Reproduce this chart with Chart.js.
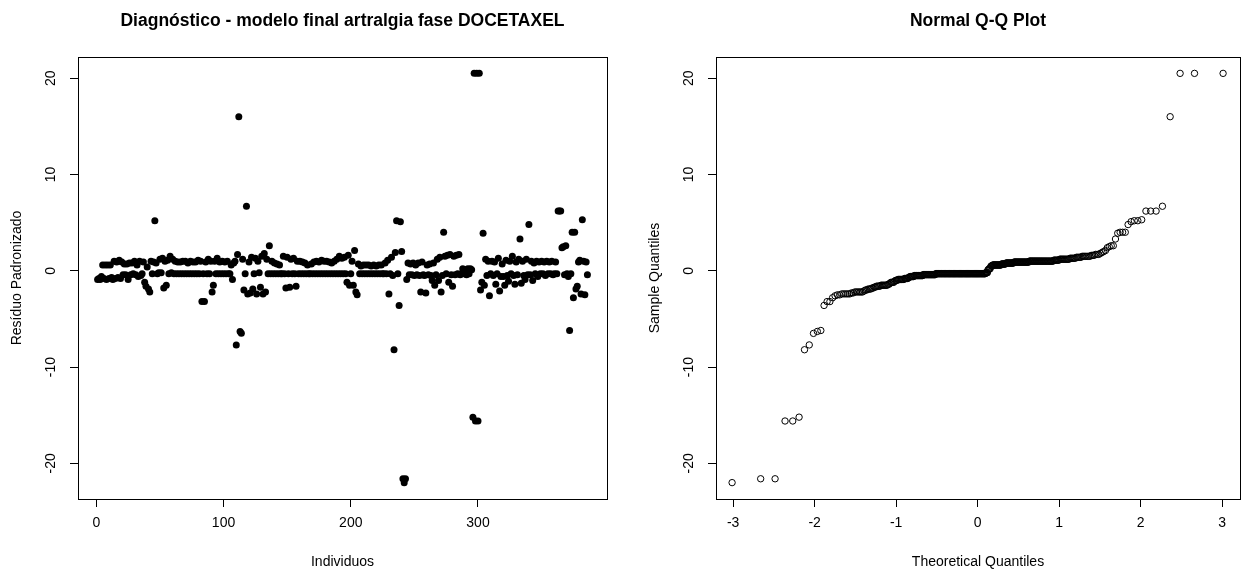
<!DOCTYPE html>
<html><head><meta charset="utf-8">
<script src="https://cdn.jsdelivr.net/npm/chart.js@4.4.1/dist/chart.umd.min.js"></script>
<style>
html,body{margin:0;padding:0;background:#fff;overflow:hidden;width:1254px;height:573px;}
#wrap{position:relative;width:1254px;height:573px;overflow:hidden;background:#fff;}
canvas{position:absolute;top:0;}
#c1{left:0px}
#c2{left:638px}
</style></head><body>
<div id="wrap">
<canvas id="c1" width="627" height="573"></canvas>
<canvas id="c2" width="616" height="573"></canvas>
</div>
<script>
// ---- data ----
const residuals = [
 -0.9,-0.8,-0.9,-0.6,0.6,-0.8,0.6,-0.9,0.6,-0.8,
 0.6,-0.7,-0.9,1.0,-0.8,0.9,-0.7,1.1,-0.8,0.9,
 -0.4,0.7,-0.4,0.7,-0.9,0.8,-0.4,0.8,-0.3,1.0,
 -0.4,0.6,-0.6,1.0,-0.5,-0.3,0.9,-1.2,-1.6,0.4,
 -1.9,-2.2,1.0,-0.3,0.9,5.2,0.8,-0.3,-0.2,1.2,
 -0.2,1.3,-1.8,1.0,-1.5,1.1,-0.3,1.5,-0.2,1.2,
 -0.3,1.0,-0.3,0.9,-0.3,0.9,-0.3,1.0,-0.3,1.0,
 -0.3,0.8,-0.3,1.0,-0.3,0.9,-0.3,0.9,-0.3,1.1,
 -0.3,1.0,-3.2,-0.3,-3.2,0.9,-0.3,1.2,-0.3,1.0,
 -2.2,-1.5,1.0,-0.3,1.3,-0.3,0.9,-0.3,1.0,-0.3,
 0.9,-0.3,1.0,-0.3,-0.3,0.6,-0.9,0.8,1.0,-7.7,
 1.7,16.0,-6.3,-6.5,1.2,-2.0,-0.3,6.7,-2.4,0.9,
 -2.3,1.4,-1.9,-0.3,1.3,-2.4,1.0,-0.2,-1.7,1.5,
 -2.4,1.8,-2.2,1.2,-0.3,2.6,-0.3,1.0,-0.3,0.8,
 -0.3,0.7,-0.3,0.6,-0.3,-0.3,1.5,-0.3,-1.8,1.4,
 -0.3,-1.7,1.2,-0.3,1.3,-0.3,-1.6,1.0,-0.3,1.0,
 -0.3,0.9,-0.3,0.8,-0.3,0.6,-0.3,-0.3,0.7,-0.3,
 0.9,-0.3,1.0,-0.3,0.9,-0.3,1.1,-0.3,1.0,-0.3,
 1.0,-0.3,0.9,-0.3,0.8,-0.3,1.0,-0.3,1.2,-0.3,
 1.5,-0.3,1.3,-0.3,1.4,-0.3,-1.2,1.6,-1.5,-0.3,
 1.0,-1.5,2.1,-2.2,-2.5,0.7,-0.3,0.5,-0.3,0.6,
 -0.3,0.6,-0.3,0.6,-0.3,0.5,-0.3,0.6,-0.3,0.5,
 -0.3,0.6,-0.3,0.6,-0.3,-0.3,0.8,-0.3,1.1,-2.4,
 -0.3,1.4,-0.5,-8.2,1.9,5.2,-0.3,-3.6,5.1,2.0,
 -21.6,-22.0,-21.6,-0.9,0.8,-0.4,0.7,-0.4,0.8,-0.5,
 0.6,-0.4,0.8,-0.5,-2.2,0.9,-0.4,-0.5,-2.3,0.6,
 -0.4,0.7,-0.5,-1.0,0.8,-1.5,-0.4,1.2,-1.0,1.4,
 -2.2,-0.5,4.0,1.5,-0.3,1.6,-1.2,1.7,-0.4,-1.6,
 1.5,-0.4,1.6,-0.3,1.7,-0.4,-0.3,0.2,-0.3,0.1,
 -0.4,0.2,-0.3,0.2,0.1,-15.2,20.5,-15.6,20.5,-15.6,
 20.5,-2.0,-1.2,3.9,-1.5,1.2,-0.5,1.0,-2.6,-0.3,
 1.0,-0.5,0.9,-1.4,-0.3,1.3,-2.1,-0.6,0.7,-0.6,
 -1.5,1.1,-0.5,-1.1,1.0,-0.3,1.5,-0.5,-1.4,0.9,
 -0.4,1.2,3.3,-1.3,1.0,-0.5,-0.9,1.2,-0.4,4.8,
 -0.4,1.0,-1.0,0.8,-0.3,1.0,-0.6,0.9,-0.3,1.0,
 -0.3,0.9,-0.5,1.0,-0.3,0.9,-0.3,1.0,-0.4,-0.3,
 0.9,-0.3,6.2,6.2,6.2,2.4,2.5,-0.4,2.6,-0.3,
 -0.6,-6.2,-0.3,4.0,-2.8,4.0,-1.9,-1.6,0.9,1.1,
 -2.4,5.3,1.0,-2.5,0.9,-0.4
];
const indexTicks = [0, 100, 200, 300];
const residualTicks = [-20, -10, 0, 10, 20];
const quantileTicks = [-3, -2, -1, 0, 1, 2, 3];
const titleLeft = 'Diagnóstico - modelo final artralgia fase DOCETAXEL';
const titleRight = 'Normal Q-Q Plot';

// ---- derived series ----
const n = residuals.length;
const individuos = residuals.map((_, i) => i + 1);
const scatterData = residuals.map((v, i) => ({x: individuos[i], y: v}));

// standard normal quantile (as used by qqnorm / ppoints)
function qnorm(p){
  const a=[-3.969683028665376e+01,2.209460984245205e+02,-2.759285104469687e+02,1.383577518672690e+02,-3.066479806614716e+01,2.506628277459239e+00];
  const b=[-5.447609879822406e+01,1.615858368580409e+02,-1.556989798598866e+02,6.680131188771972e+01,-1.328068155288572e+01];
  const c=[-7.784894002430293e-03,-3.223964580411365e-01,-2.400758277161838e+00,-2.549732539343734e+00,4.374664141464968e+00,2.938163982698783e+00];
  const d=[7.784695709041462e-03,3.224671290700398e-01,2.445134137142996e+00,3.754408661907416e+00];
  const pl=0.02425, ph=1-pl; let q, r;
  if(p<pl){q=Math.sqrt(-2*Math.log(p));return (((((c[0]*q+c[1])*q+c[2])*q+c[3])*q+c[4])*q+c[5])/((((d[0]*q+d[1])*q+d[2])*q+d[3])*q+1);}
  if(p<=ph){q=p-0.5;r=q*q;return (((((a[0]*r+a[1])*r+a[2])*r+a[3])*r+a[4])*r+a[5])*q/(((((b[0]*r+b[1])*r+b[2])*r+b[3])*r+b[4])*r+1);}
  q=Math.sqrt(-2*Math.log(1-p));return -(((((c[0]*q+c[1])*q+c[2])*q+c[3])*q+c[4])*q+c[5])/((((d[0]*q+d[1])*q+d[2])*q+d[3])*q+1);
}
const sampleQuantiles = residuals.slice().sort((a, b) => a - b);
const theoreticalQuantiles = sampleQuantiles.map((_, i) => qnorm((i + 0.5) / n));
const qqData = sampleQuantiles.map((v, i) => ({x: theoreticalQuantiles[i], y: v}));

// ---- styling ----
const FONT = '"Liberation Sans", Arial, sans-serif';
const boxPlugin = {
  id: 'rbox',
  afterDraw(chart){
    const {ctx, chartArea: a} = chart;
    ctx.save();
    ctx.strokeStyle = '#000';
    ctx.lineWidth = 1;
    ctx.strokeRect(Math.round(a.left) + 0.5, Math.round(a.top) + 0.5,
                   Math.round(a.right - a.left), Math.round(a.bottom - a.top));
    ctx.restore();
  }
};

function makeOptions(title, xTitle, yTitle, xMin, xMax, xTicks, padRight){
  return {
    responsive: false,
    animation: false,
    devicePixelRatio: 1,
    layout: {padding: {left: 0, right: padRight, top: 0, bottom: 0}},
    plugins: {
      legend: {display: false},
      tooltip: {enabled: false},
      title: {
        display: true, text: title, fullSize: false,
        color: '#000',
        font: {family: FONT, size: 17.5, weight: 'bold', lineHeight: 1.2},
        padding: {top: 10.5, bottom: 25.5}
      }
    },
    scales: {
      x: {
        type: 'linear', position: 'bottom', min: xMin, max: xMax,
        afterBuildTicks: s => { s.ticks = xTicks.map(v => ({value: v})); },
        afterFit: s => { s.height = 74; },
        grid: {drawOnChartArea: false, drawTicks: true, tickLength: 8, color: '#000', tickColor: '#000', lineWidth: 1},
        border: {display: false},
        ticks: {color: '#000', font: {family: FONT, size: 14}, padding: 8, autoSkip: false, maxRotation: 0, minRotation: 0},
        title: {display: true, text: xTitle, color: '#000', font: {family: FONT, size: 14}, padding: {top: 0, bottom: 2.5}}
      },
      y: {
        type: 'linear', position: 'left', min: -23.7, max: 22.2,
        afterBuildTicks: s => { s.ticks = residualTicks.map(v => ({value: v})); },
        afterFit: s => { s.width = 78; },
        grid: {drawOnChartArea: false, drawTicks: true, tickLength: 8, color: '#000', tickColor: '#000', lineWidth: 1},
        border: {display: false},
        ticks: {color: '#000', font: {family: FONT, size: 14}, padding: 8.5, autoSkip: false,
                minRotation: 90, maxRotation: 90, crossAlign: 'center'},
        title: {display: true, text: yTitle, color: '#000', font: {family: FONT, size: 14}, padding: {top: 8.3, bottom: 0}}
      }
    }
  };
}

new Chart(document.getElementById('c1'), {
  type: 'scatter',
  data: {datasets: [{
    data: scatterData,
    pointRadius: 3.5, pointBorderWidth: 0,
    pointBackgroundColor: '#000', pointBorderColor: '#000'
  }]},
  options: makeOptions(titleLeft, 'Individuos', 'Resíduo Padronizado', -14.4, 401.4, indexTicks, 20),
  plugins: [boxPlugin]
});

new Chart(document.getElementById('c2'), {
  type: 'scatter',
  data: {datasets: [{
    data: qqData,
    pointRadius: 3.2, pointBorderWidth: 1,
    pointBackgroundColor: 'rgba(0,0,0,0)', pointBorderColor: '#000'
  }]},
  options: makeOptions(titleRight, 'Theoretical Quantiles', 'Sample Quantiles', -3.21, 3.22, quantileTicks, 14),
  plugins: [boxPlugin]
});
</script>
</body></html>
